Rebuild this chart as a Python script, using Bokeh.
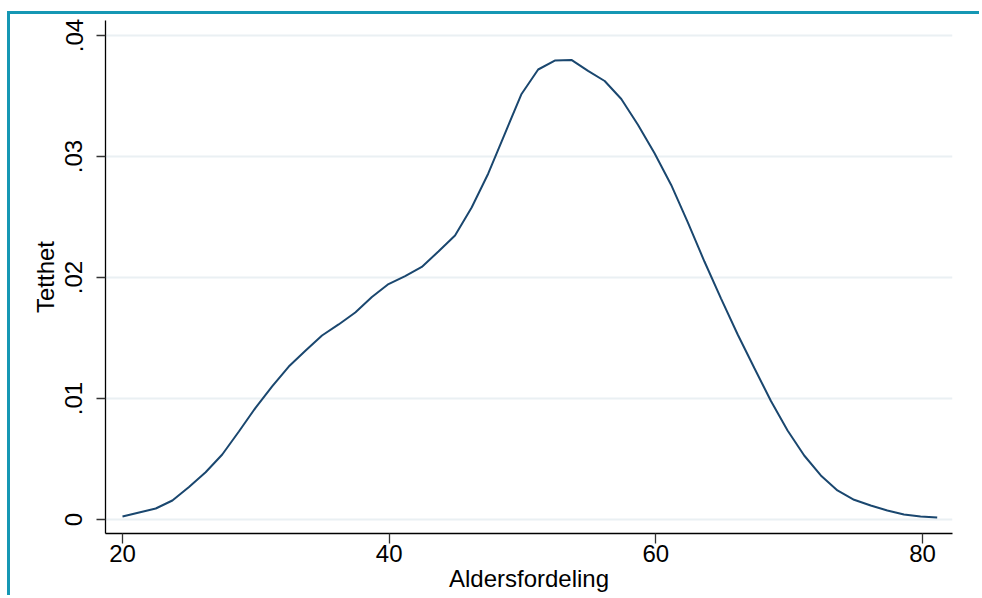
from bokeh.plotting import figure
from bokeh.models import Range1d, FixedTicker
from bokeh.embed import file_html
from bokeh.resources import INLINE

# Kernel density of age (50 evaluation points)
x_start = 20.0
x_step = 1.247
density = [
    0.00025, 0.00058, 0.00091, 0.00157, 0.00269, 0.00391, 0.00537, 0.00727, 0.00923, 0.01100,
    0.01264, 0.01394, 0.01521, 0.01612, 0.01711, 0.01839, 0.01946, 0.02012, 0.02087, 0.02215,
    0.02347, 0.02579, 0.02860, 0.03190, 0.03517, 0.03719, 0.03793, 0.03798, 0.03707, 0.03624,
    0.03475, 0.03262, 0.03027, 0.02765, 0.02455, 0.02132, 0.01826, 0.01529, 0.01252, 0.00979,
    0.00736, 0.00529, 0.00364, 0.00240, 0.00163, 0.00116, 0.00074, 0.00041, 0.00025, 0.00017,
]
age = [x_start + i * x_step for i in range(len(density))]

x_ticks = [20, 40, 60, 80]
y_ticks = [0, 0.01, 0.02, 0.03, 0.04]
y_tick_labels = ["0", ".01", ".02", ".03", ".04"]
x_title = "Aldersfordeling"
y_title = "Tetthet"

FONT = "Liberation Sans"
TEAL = "#1597b4"

p = figure(width=972, height=584, output_backend="svg", toolbar_location=None,
           x_range=Range1d(18.725, 82.25), y_range=Range1d(-0.001157, 0.04124),
           min_border_left=95, min_border_right=30, min_border_top=6, min_border_bottom=65)
p.styles = {"border-top": f"3px solid {TEAL}", "border-left": f"3px solid {TEAL}",
            "margin-top": "11px", "margin-left": "7px"}
p.background_fill_color = "white"
p.border_fill_color = "white"
p.outline_line_color = None

p.line(age, density, line_color="#1a476f", line_width=2)

p.xgrid.visible = False
p.ygrid.ticker = FixedTicker(ticks=y_ticks)
p.ygrid.grid_line_color = "#eaf0f3"
p.ygrid.grid_line_width = 2

for ax in (p.xaxis[0], p.yaxis[0]):
    ax.axis_line_color = "black"
    ax.axis_line_width = 1.3
    ax.major_tick_line_color = "#333333"
    ax.major_tick_line_width = 1.3
    ax.major_tick_in = 0
    ax.minor_tick_line_color = None
    ax.major_label_text_font = FONT
    ax.major_label_text_font_size = "24px"
    ax.major_label_text_color = "black"
    ax.axis_label_text_font = FONT
    ax.axis_label_text_font_size = "24px"
    ax.axis_label_text_font_style = "normal"
    ax.axis_label_text_color = "black"

p.xaxis.ticker = FixedTicker(ticks=x_ticks)
p.xaxis.major_tick_out = 10
p.xaxis.major_label_standoff = 1
p.xaxis.axis_label = x_title
p.xaxis.axis_label_standoff = 0

p.yaxis.ticker = FixedTicker(ticks=y_ticks)
p.yaxis.major_label_overrides = {t: l for t, l in zip(y_ticks, y_tick_labels)}
p.yaxis.major_tick_out = 9
p.yaxis.major_label_standoff = 14
p.yaxis.major_label_orientation = "vertical"
p.yaxis.axis_label = y_title
p.yaxis.axis_label_standoff = 4

open("out.html", "w").write(file_html(p, INLINE))
